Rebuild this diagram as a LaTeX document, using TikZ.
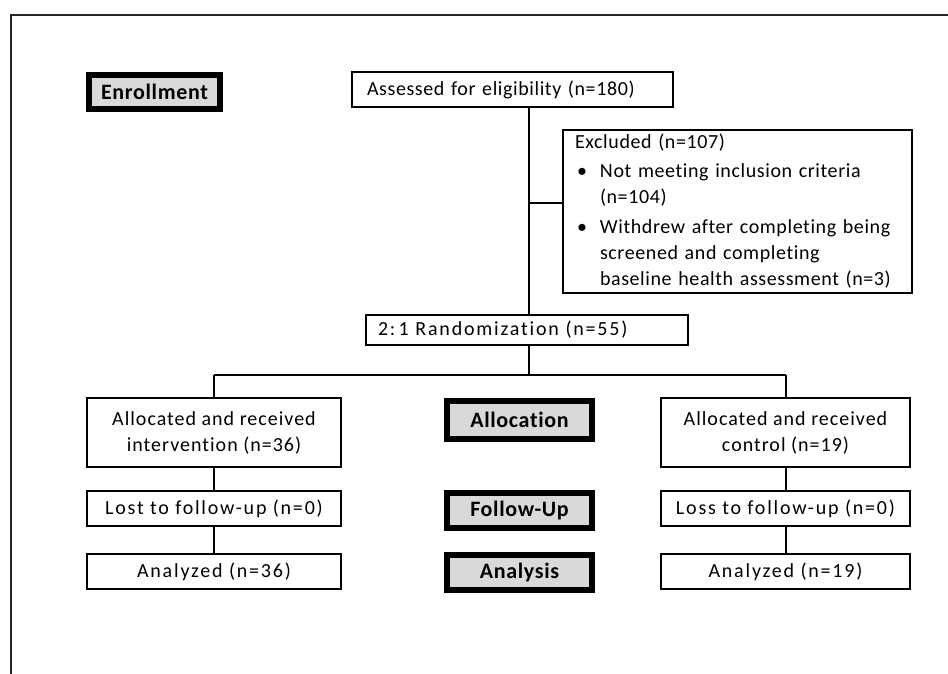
\documentclass[tikz,border=0pt]{standalone}
\usepackage{fontspec}
\setmainfont[Ligatures=NoCommon, LetterSpace=3]{Carlito}
\begin{document}
\begin{tikzpicture}[x=1pt,y=-1pt,
  every node/.style={inner sep=0pt, outer sep=0pt},
  box/.style={draw=black, line width=1.8pt, rectangle, fill=white,
    font=\fontsize{20}{26}\selectfont},
  spaced/.style={font=\fontsize{20}{26}\selectfont\addfontfeature{LetterSpace=#1}},
  stage/.style={draw=black, line width=6pt, rectangle, fill=stagegray,
    font=\fontsize{22}{24}\selectfont\bfseries},
  link/.style={draw=black, line width=2pt}
]
\definecolor{stagegray}{HTML}{D9D9D9}
\useasboundingbox (0,0) rectangle (948,673);
\clip (0,0) rectangle (948,673);

% outer frame, running past the right and bottom edges
\draw[line width=2pt, black!85] (11,14.5) rectangle (990,720);

% stage labels
\node[stage, minimum width=131, minimum height=34] (enroll) at (154.5,92) {Enrollment};
\node[stage, minimum width=145, minimum height=38] (allocation) at (519.5,420) {Allocation};
\node[stage, minimum width=145, minimum height=35] (followup) at (519.5,510.5) {Follow-Up};
\node[stage, minimum width=145, minimum height=35] (analysis) at (519.5,572.5) {Analysis};

% enrollment
\node[box, minimum width=321, minimum height=35, text width=291, align=left, inner xsep=15]
  (assess) at (512.5,89.5) {Assessed for eligibility (n=180)};
\node[box, minimum width=349, minimum height=163, text width=325, align=left, inner xsep=12]
  (excl) at (737.5,211.5) {Excluded (n=107)\\[3pt]
  \makebox[25pt][l]{\hspace{2pt}\textbullet}Not meeting inclusion criteria\\
  \hspace*{25pt}(n=104)\\[4pt]
  \makebox[25pt][l]{\hspace{2pt}\textbullet}Withdrew after completing being\\
  \hspace*{25pt}screened and completing\\
  \hspace*{25pt}\mbox{baseline health assessment (n=3)}};
\node[box, spaced=9, minimum width=322, minimum height=30, text width=298, align=left, inner xsep=12]
  (rand) at (527,330) {2:\,1 Randomization (n=55)};

% intervention arm
\node[box, spaced=5, minimum width=254, minimum height=69, align=center]
  (allocL) at (214,432.5) {Allocated and received\\intervention (n=36)};
\node[box, spaced=9, minimum width=254, minimum height=35] (lostL) at (214,508.5) {Lost to follow-up (n=0)};
\node[box, spaced=9, minimum width=254, minimum height=35] (analL) at (214,571.5) {Analyzed (n=36)};

% control arm
\node[box, spaced=5, minimum width=249, minimum height=69, align=center]
  (allocR) at (785.5,432.5) {Allocated and received\\control (n=19)};
\node[box, spaced=9, minimum width=249, minimum height=35] (lossR) at (785.5,508.5) {Loss to follow-up (n=0)};
\node[box, spaced=9, minimum width=249, minimum height=35] (analR) at (785.5,571.5) {Analyzed (n=19)};

% connectors
\coordinate (trunk) at (529,0);
\coordinate (branch) at (529,203);
\coordinate (split) at (529,375);
\draw[link] (assess.south -| trunk) -- (rand.north -| trunk);
\draw[link] (branch) -- (branch -| excl.west);
\draw[link] (rand.south -| trunk) -- (split);
\draw[link] (split -| allocL.north) -- (split -| allocR.north);
\draw[link] (split -| allocL.north) -- (allocL.north);
\draw[link] (split -| allocR.north) -- (allocR.north);
\draw[link] (allocL) -- (lostL);
\draw[link] (lostL) -- (analL);
\draw[link] (allocR) -- (lossR);
\draw[link] (lossR) -- (analR);
\end{tikzpicture}
\end{document}
